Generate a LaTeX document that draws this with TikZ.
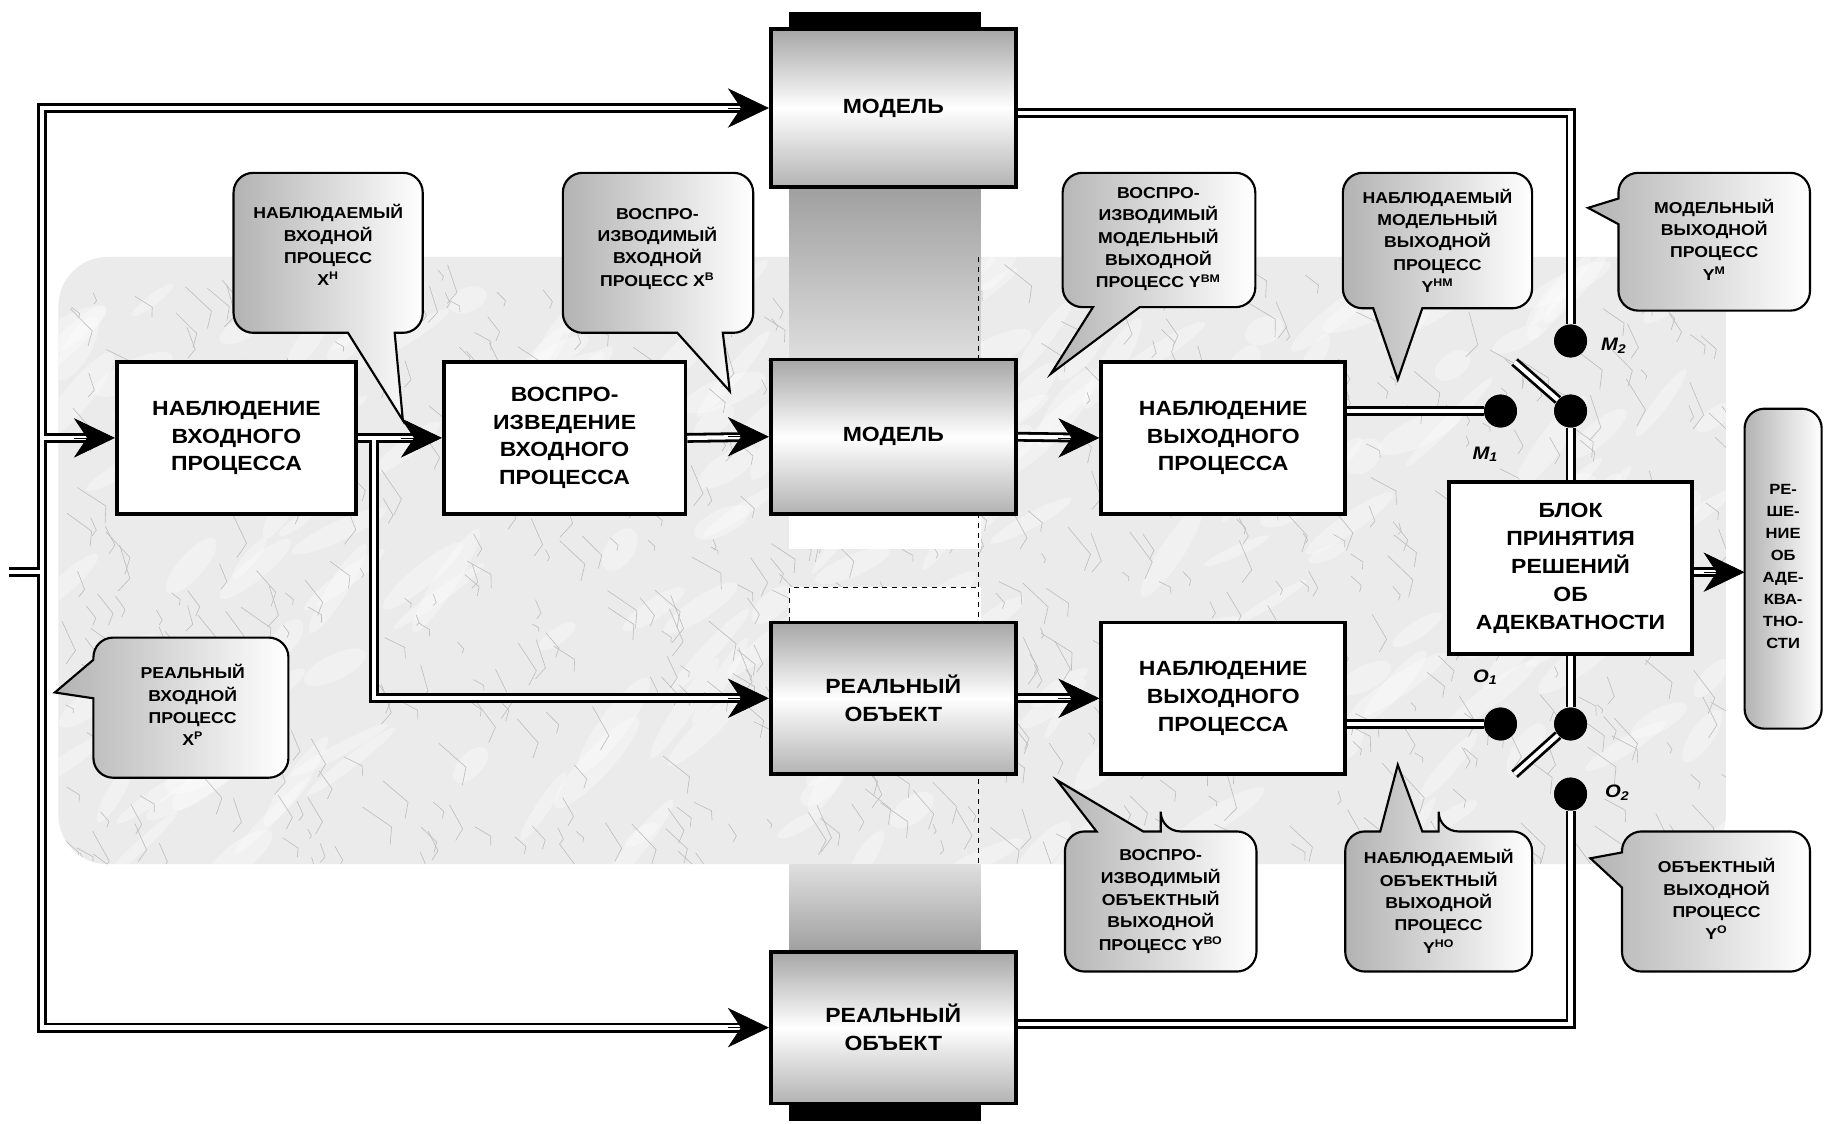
\documentclass[tikz,border=0pt]{standalone}
\usepackage{fontspec}
\setmainfont{Liberation Sans}[FakeStretch=1.12]
\usetikzlibrary{arrows.meta,calc}

\tikzset{
  sz/.style 2 args={minimum width=#1*0.025cm, minimum height=#2*0.025cm},
  boxtxt/.style={font=\bfseries\fontsize{12.5}{17}\selectfont},
  plainbox/.style={draw, line width=2.2pt, fill=white, align=center, inner sep=0pt, boxtxt},
  shadebox/.style={plainbox, top color=gray!70, bottom color=gray!60, middle color=white},
  calloutshape/.style={draw, line width=1.3pt, left color=gray!60, right color=white},
  callouttxt/.style={align=center, font=\bfseries\fontsize{9.6}{13.6}\selectfont, inner sep=0pt},
  dot/.style={circle, fill=black, minimum size=20pt, inner sep=0pt},
  tipst/.style={-{Stealth[length=25pt,width=24pt,inset=8pt]}, line width=0.4pt},
  lbl/.style={font=\bfseries\itshape\fontsize{11}{12}\selectfont, inner sep=0pt},
  arw/.style={shorten >=16pt},
}

\begin{document}
\begin{tikzpicture}[x=0.025cm, y=-0.025cm, line join=miter]
\useasboundingbox (0,0) rectangle (1568,962);
\fill[white] (0,0) rectangle (1568,962);

% marble background area
\fill[gray!16, rounded corners=30pt] (50,220) rectangle (1478,740);
\begin{scope}
  \clip[rounded corners=30pt] (50,220) rectangle (1478,740);
  \pgfmathsetseed{7}
  \foreach \i in {1,...,220} {
    \pgfmathsetmacro\xa{50+1430*rnd}
    \pgfmathsetmacro\ya{220+520*rnd}
    \pgfmathsetmacro\ra{12+26*rnd}
    \pgfmathsetmacro\rb{3+6*rnd}
    \pgfmathsetmacro\rot{20+40*rnd}
    \fill[white, opacity=0.3, rotate around={\rot:(\xa,\ya)}] (\xa,\ya) ellipse ({\ra pt} and {\rb pt});
  }
  \foreach \i in {1,...,650} {
    \pgfmathsetmacro\xa{50+1430*rnd}
    \pgfmathsetmacro\ya{220+520*rnd}
    \pgfmathsetmacro\ang{25+50*rnd}
    \pgfmathsetmacro\len{6+26*rnd}
    \draw[gray!50, line width=0.4pt] (\xa,\ya) -- ++(\ang:\len) -- ++(\ang+60:0.5*\len);
  }
\end{scope}

% central column between the model and the real world
\fill[black] (676,10) rectangle (840,25);
\shade[top color=gray!75, bottom color=gray!25] (676,160) rectangle (840,310);
\fill[white] (676,440) rectangle (840,470);
\fill[white] (676,503) rectangle (840,533);
\draw[dashed, line width=1pt] (676,533) -- (676,503) -- (840,503);
\draw[dashed, line width=1pt] (838,220) -- (838,740);
\shade[top color=gray!25, bottom color=gray!75] (676,740) rectangle (840,815);
\fill[black] (676,945) rectangle (840,960);

% blocks
\node[shadebox, sz={210}{135}] (mtop) at (765,92.5) {МОДЕЛЬ};
\node[plainbox, sz={205}{130}] (nin) at (202.5,375) {НАБЛЮДЕНИЕ\\ВХОДНОГО\\ПРОЦЕССА};
\node[plainbox, sz={207}{130}] (nrep) at (483.5,375) {ВОСПРО-\\ИЗВЕДЕНИЕ\\ВХОДНОГО\\ПРОЦЕССА};
\node[shadebox, sz={210}{132}] (mmid) at (765,374) {МОДЕЛЬ};
\node[plainbox, sz={209}{130}] (nout1) at (1047.5,375) {НАБЛЮДЕНИЕ\\ВЫХОДНОГО\\ПРОЦЕССА};
\node[shadebox, sz={210}{130}] (rmid) at (765,598) {РЕАЛЬНЫЙ\\ОБЪЕКТ};
\node[plainbox, sz={209}{130}] (nout2) at (1047.5,598) {НАБЛЮДЕНИЕ\\ВЫХОДНОГО\\ПРОЦЕССА};
\node[shadebox, sz={210}{130}] (rbot) at (765,880) {РЕАЛЬНЫЙ\\ОБЪЕКТ};
\node[plainbox, sz={208}{147}] (dec) at (1345,486.5) {БЛОК\\ПРИНЯТИЯ\\РЕШЕНИЙ\\ОБ\\АДЕКВАТНОСТИ};

% switch contacts
\node[dot] (m2) at (1345,292) {};
\node[dot] (sw1) at (1345,352) {};
\node[dot] (m1) at (1285,352) {};
\node[dot] (o1) at (1285,620) {};
\node[dot] (sw2) at (1345,620) {};
\node[dot] (o2) at (1345,680) {};

\coordinate (inp) at (8,490);
\coordinate (lft) at (36,490);
\coordinate (br) at (320,375);
\coordinate (bl1) at (1297,310);
\coordinate (bl2) at (1297,663);
\coordinate (resw) at (1494,490);

% double-line connectors: drawn twice so that junctions merge
\def\conpaths{
  \draw[conn] (inp) -- (lft);
  \draw[conn, shorten <=16pt, shorten >=16pt] (mtop.west) -- (lft|-mtop.west) -- (lft|-rbot.west) -- (rbot.west);
  \draw[conn, arw] (lft|-nin.west) -- (nin.west);
  \draw[conn, arw] (nin.east) -- (nrep.west);
  \draw[conn, arw] (br) -- (br|-rmid.west) -- (rmid.west);
  \draw[conn, arw] (nrep.east) -- (mmid.west);
  \draw[conn, arw] (mmid.east) -- (nout1.west);
  \draw[conn, arw] (rmid.east) -- (nout2.west);
  \draw[conn] (nout1.east|-m1) -- (m1);
  \draw[conn] (nout2.east|-o1) -- (o1);
  \draw[conn] ([yshift=-3pt]mtop.east) -- ([yshift=-3pt]m2|-mtop.east) -- (m2);
  \draw[conn] ([yshift=2pt]rbot.east) -- ([yshift=2pt]o2|-rbot.east) -- (o2);
  \draw[conn] (dec.north-|sw1) -- (sw1);
  \draw[conn] (dec.south-|sw2) -- (sw2);
  \draw[conn] (sw1) -- (bl1);
  \draw[conn] (sw2) -- (bl2);
  \draw[conn, arw] (dec.east|-resw) -- (resw);
}
\begin{scope}
  \tikzset{conn/.style={draw=black, line width=6pt}}
  \conpaths
  \tikzset{conn/.style={draw=white, line width=2.6pt}}
  \conpaths
\end{scope}

% redraw blocks over the line ends
\node[shadebox, sz={210}{135}] at (mtop) {МОДЕЛЬ};
\node[plainbox, sz={205}{130}] at (nin) {НАБЛЮДЕНИЕ\\ВХОДНОГО\\ПРОЦЕССА};
\node[plainbox, sz={207}{130}] at (nrep) {ВОСПРО-\\ИЗВЕДЕНИЕ\\ВХОДНОГО\\ПРОЦЕССА};
\node[shadebox, sz={210}{132}] at (mmid) {МОДЕЛЬ};
\node[plainbox, sz={209}{130}] at (nout1) {НАБЛЮДЕНИЕ\\ВЫХОДНОГО\\ПРОЦЕССА};
\node[shadebox, sz={210}{130}] at (rmid) {РЕАЛЬНЫЙ\\ОБЪЕКТ};
\node[plainbox, sz={209}{130}] at (nout2) {НАБЛЮДЕНИЕ\\ВЫХОДНОГО\\ПРОЦЕССА};
\node[shadebox, sz={210}{130}] at (rbot) {РЕАЛЬНЫЙ\\ОБЪЕКТ};
\node[plainbox, sz={208}{147}] at (dec) {БЛОК\\ПРИНЯТИЯ\\РЕШЕНИЙ\\ОБ\\АДЕКВАТНОСТИ};
\foreach \d in {m2,sw1,m1,o1,sw2,o2} \node[dot] at (\d) {};

% arrow heads
\draw[tipst] ([xshift=-25pt]mtop.west) -- (mtop.west);
\draw[tipst] ([xshift=-25pt]rbot.west) -- (rbot.west);
\draw[tipst] ([xshift=-25pt]nin.west) -- (nin.west);
\draw[tipst] ([xshift=-25pt]nrep.west) -- (nrep.west);
\draw[tipst] ([xshift=-25pt]rmid.west) -- (rmid.west);
\draw[tipst] ([xshift=-25pt]mmid.west) -- (mmid.west);
\draw[tipst] ([xshift=-25pt]nout1.west) -- (nout1.west);
\draw[tipst] ([xshift=-25pt]nout2.west) -- (nout2.west);
\draw[tipst] ([xshift=-25pt]resw) -- (resw);

% contact labels
\node[lbl] (lm2) at (1382,296) {М\textsubscript{2}};
\node[lbl] (lm1) at (1272,389) {М\textsubscript{1}};
\node[lbl] (lo1) at (1272,580) {О\textsubscript{1}};
\node[lbl] (lo2) at (1385,679) {О\textsubscript{2}};

% callouts
\draw[calloutshape] (281,148) [rounded corners=12pt] -- (362,148) -- (362,285) [sharp corners] -- (338,285) -- (345,360) -- (298,285) [rounded corners=12pt] -- (200,285) -- (200,148) -- cycle;
\node[callouttxt] (c1) at (281,210) {НАБЛЮДАЕМЫЙ\\ВХОДНОЙ\\ПРОЦЕСС\\X\textsuperscript{Н}};

\draw[calloutshape] (563,148) [rounded corners=12pt] -- (645,148) -- (645,285) [sharp corners] -- (619,285) -- (625,335) -- (580,285) [rounded corners=12pt] -- (482,285) -- (482,148) -- cycle;
\node[callouttxt] (c2) at (563,213) {ВОСПРО-\\ИЗВОДИМЫЙ\\ВХОДНОЙ\\ПРОЦЕСС X\textsuperscript{В}};

\draw[calloutshape] (992,148) [rounded corners=12pt] -- (1075,148) -- (1075,263) [sharp corners] -- (976,263) -- (900,320) -- (936,263) [rounded corners=12pt] -- (910,263) -- (910,148) -- cycle;
\node[callouttxt] (c3) at (992,205) {ВОСПРО-\\ИЗВОДИМЫЙ\\МОДЕЛЬНЫЙ\\ВЫХОДНОЙ\\ПРОЦЕСС Y\textsuperscript{ВМ}};

\draw[calloutshape] (1230,148) [rounded corners=12pt] -- (1312,148) -- (1312,264) [sharp corners] -- (1218,264) -- (1197,325) -- (1176,264) [rounded corners=12pt] -- (1150,264) -- (1150,148) -- cycle;
\node[callouttxt] (c4) at (1231,206) {НАБЛЮДАЕМЫЙ\\МОДЕЛЬНЫЙ\\ВЫХОДНОЙ\\ПРОЦЕСС\\Y\textsuperscript{НМ}};

\draw[calloutshape] (1468,148) [rounded corners=12pt] -- (1550,148) -- (1550,266) -- (1386,266) [sharp corners] -- (1386,192) -- (1360,178) -- (1386,170) [rounded corners=12pt] -- (1386,148) -- cycle;
\node[callouttxt] (c5) at (1468,205) {МОДЕЛЬНЫЙ\\ВЫХОДНОЙ\\ПРОЦЕСС\\Y\textsuperscript{М}};

\draw[calloutshape] (163,546) [rounded corners=12pt] -- (247,546) -- (247,666) -- (80,666) [sharp corners] -- (80,598) -- (47,593) -- (80,565) [rounded corners=12pt] -- (80,546) -- cycle;
\node[callouttxt] (c6) at (165,604) {РЕАЛЬНЫЙ\\ВХОДНОЙ\\ПРОЦЕСС\\X\textsuperscript{Р}};

\draw[calloutshape] (994,712) [rounded corners=12pt] -- (1076,712) -- (1076,832) -- (912,832) -- (912,712) [sharp corners] -- (939,712) -- (905,668) -- (979,712) -- (994,712) [rounded corners=12pt] -- cycle;
\node[callouttxt] (c7) at (994,772) {ВОСПРО-\\ИЗВОДИМЫЙ\\ОБЪЕКТНЫЙ\\ВЫХОДНОЙ\\ПРОЦЕСС Y\textsuperscript{ВО}};

\draw[calloutshape] (1232,712) [rounded corners=12pt] -- (1312,712) -- (1312,832) -- (1152,832) -- (1152,712) [sharp corners] -- (1182,712) -- (1197,655) -- (1218,712) -- (1232,712) [rounded corners=12pt] -- cycle;
\node[callouttxt] (c8) at (1232,772) {НАБЛЮДАЕМЫЙ\\ОБЪЕКТНЫЙ\\ВЫХОДНОЙ\\ПРОЦЕСС\\Y\textsuperscript{НО}};

\draw[calloutshape] (1470,712) [rounded corners=12pt] -- (1550,712) -- (1550,832) -- (1389,832) [sharp corners] -- (1389,760) -- (1362,735) -- (1389,730) [rounded corners=12pt] -- (1389,712) -- cycle;
\node[callouttxt] (c9) at (1470,770) {ОБЪЕКТНЫЙ\\ВЫХОДНОЙ\\ПРОЦЕСС\\Y\textsuperscript{О}};

\draw[calloutshape, rounded corners=12pt] (1494,350) rectangle (1560,624);
\node[callouttxt, font=\bfseries\fontsize{9}{13.4}\selectfont] (res) at (1527,485) {РЕ-\\ШЕ-\\НИЕ\\ОБ\\АДЕ-\\КВА-\\ТНО-\\СТИ};
\end{tikzpicture}
\end{document}
